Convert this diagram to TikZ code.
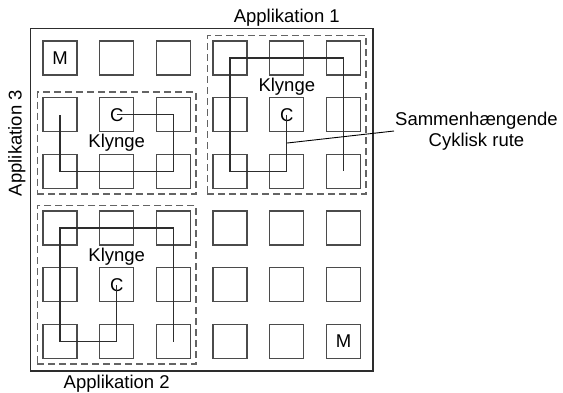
\documentclass[tikz,border=0pt]{standalone}
\usepackage{fontspec}
\setmainfont{Liberation Sans}
\usepackage{tikz}
\usetikzlibrary{positioning, fit, calc}
\usepackage{xcolor}
\definecolor{cellcolor}{RGB}{75,75,75}
\definecolor{routecolor}{RGB}{45,45,45}
\definecolor{clustercolor}{RGB}{100,100,100}

\begin{document}
\begin{tikzpicture}[
    x=1pt, y=-1pt,
    font=\fontsize{18.5}{21}\selectfont,
    cell/.style={rectangle, draw=cellcolor, line width=1.3pt, minimum size=34pt, inner sep=0pt},
    cluster/.style={rectangle, draw=clustercolor, dash pattern=on 7pt off 4pt, line width=1.4pt, inner sep=5pt},
    route/.style={draw=routecolor, line width=1.3pt},
    applabel/.style={inner sep=1pt}
]
\useasboundingbox (0,0) rectangle (563,392);

% 6x6 grid of cores
\foreach \i in {0,...,5} {
  \foreach \j in {0,...,5} {
    \node[cell] (sq-\i-\j) at (60+56.7*\i, 58+56.7*\j) {};
  }
}
\node (mA) at (sq-0-0) {M};
\node (mB) at (sq-5-5) {M};
\node (cA) at (sq-4-1) {C};
\node (cB) at (sq-1-4) {C};
\node (cC) at (sq-1-1) {C};

\node[draw=routecolor, line width=1.4pt, fit=(sq-0-0)(sq-5-5), inner sep=11.75pt] (chip) {};

% clusters
\node[cluster, fit=(sq-3-0)(sq-5-2)] (clu1) {};
\node[cluster, fit=(sq-0-3)(sq-2-5)] (clu2) {};
\node[cluster, fit=(sq-0-1)(sq-2-2)] (clu3) {};

\node (kl1) at ($(sq-4-0)!0.5!(sq-4-1)$) {Klynge};
\node (kl2) at ($(sq-1-3)!0.5!(sq-1-4)$) {Klynge};
\node (kl3) at ($(sq-1-1)!0.5!(sq-1-2)$) {Klynge};

% cyclic routes
\draw[route] (sq-4-1.center) -- (sq-4-2.center) -- (sq-3-2.center) -- (sq-3-0.center) -- (sq-5-0.center) -- (sq-5-2.center);
\draw[route] (sq-1-4.center) -- (sq-1-5.center) -- (sq-0-5.center) -- (sq-0-3.center) -- (sq-2-3.center) -- (sq-2-5.center);
\draw[route] (sq-1-1.center) -- (sq-2-1.center) -- (sq-2-2.center) -- (sq-0-2.center) -- (sq-0-1.center);

\node[applabel, above=7pt of clu1] (app1) {Applikation 1};
\node[applabel, below=9pt of clu2] (app2) {Applikation 2};
\node[applabel, rotate=90, anchor=south] (app3) at ([xshift=-10pt]clu3.west) {Applikation 3};

\node[align=center, anchor=west, inner sep=1pt] (rute) at (394,131) {Sammenhængende\\Cyklisk rute};
\draw[line width=0.9pt] ($(sq-4-1)!0.5!(sq-4-2)$) -- (rute.west);
\end{tikzpicture}
\end{document}
